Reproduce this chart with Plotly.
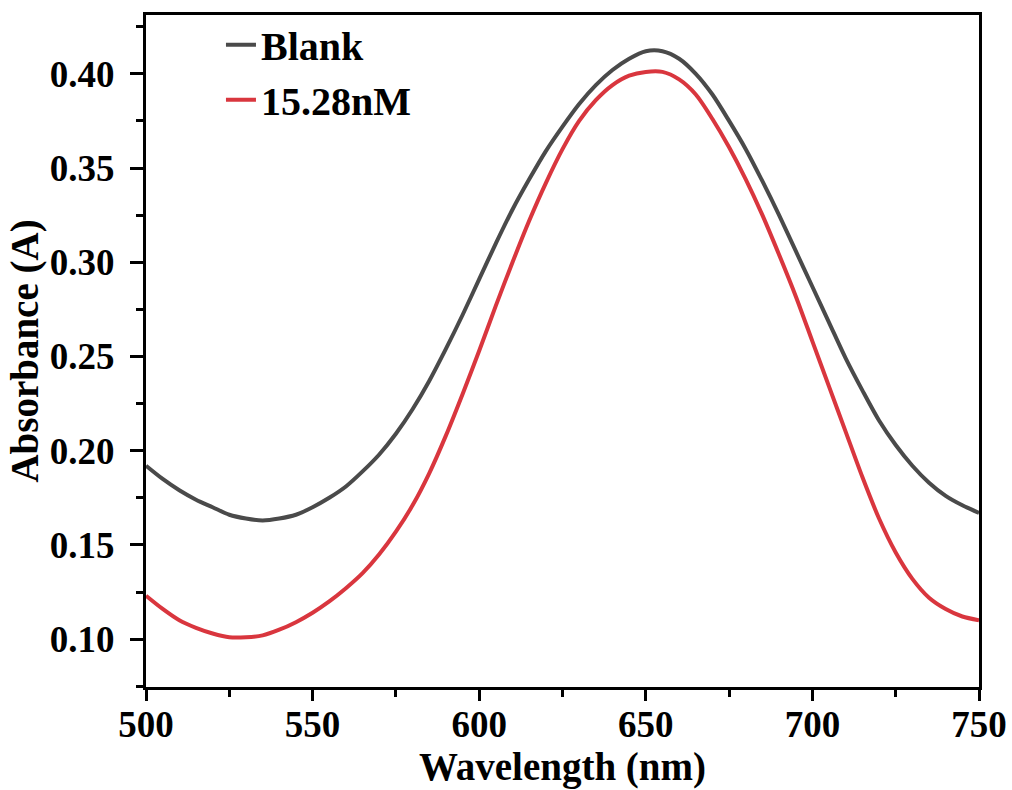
import plotly.graph_objects as go

wavelength = [500, 505, 510, 515, 520, 525, 530, 535, 540, 545, 550, 555, 560, 565, 570,
              575, 580, 585, 590, 595, 600, 605, 610, 615, 620, 625, 630, 635, 640, 645,
              650, 655, 660, 665, 670, 675, 680, 685, 690, 695, 700, 705, 710, 715, 720,
              725, 730, 735, 740, 745, 750]

blank = [0.192, 0.185, 0.179, 0.174, 0.170, 0.166, 0.164, 0.163, 0.164, 0.166, 0.170,
         0.175, 0.181, 0.189, 0.198, 0.209, 0.222, 0.237, 0.254, 0.272, 0.291, 0.310,
         0.328, 0.344, 0.359, 0.372, 0.384, 0.394, 0.402, 0.408, 0.412, 0.412, 0.408,
         0.400, 0.389, 0.375, 0.360, 0.343, 0.325, 0.306, 0.287, 0.268, 0.249, 0.232,
         0.216, 0.203, 0.192, 0.183, 0.176, 0.171, 0.167]

sample = [0.123, 0.116, 0.110, 0.106, 0.103, 0.101, 0.101, 0.102, 0.105, 0.109, 0.114,
          0.120, 0.127, 0.135, 0.145, 0.157, 0.171, 0.188, 0.208, 0.230, 0.253, 0.277,
          0.300, 0.322, 0.342, 0.360, 0.375, 0.386, 0.394, 0.399, 0.401, 0.401, 0.397,
          0.389, 0.376, 0.361, 0.344, 0.325, 0.304, 0.282, 0.258, 0.234, 0.210, 0.186,
          0.164, 0.146, 0.132, 0.122, 0.116, 0.112, 0.110]

names = ["Blank", "15.28nM"]
colors = ["#4a4a4a", "#d9363e"]

fig = go.Figure()
for nm, ys, col in zip(names, [blank, sample], colors):
    fig.add_trace(go.Scatter(x=wavelength, y=ys, mode="lines", name=nm,
                             line=dict(color=col, width=4, shape="spline", smoothing=0.8)))

font_family = "Liberation Serif"
axis_common = dict(
    showline=True, linecolor="black", linewidth=3, mirror=True,
    ticks="outside", tickwidth=3, tickcolor="black",
    showgrid=False, zeroline=False, automargin=False,
    tickfont=dict(family=font_family, size=37, color="black", weight="bold"),
    title_font=dict(family=font_family, size=39, color="black", weight="bold"),
)

fig.update_xaxes(range=[500, 750], tick0=500, dtick=50, ticklen=11,
                 minor=dict(ticks="outside", ticklen=7, tickwidth=3, tickcolor="black", dtick=25),
                 ticklabelstandoff=-8,
                 title_text="Wavelength (nm)", title_standoff=3, **axis_common)
fig.update_yaxes(range=[0.0746, 0.4312], tick0=0.1, dtick=0.05, tickformat=".2f", ticklen=13,
                 minor=dict(ticks="outside", ticklen=7, tickwidth=3, tickcolor="black", dtick=0.025),
                 ticklabelstandoff=8,
                 title_text="Absorbance (A)", title_standoff=0, **axis_common)

fig.update_layout(
    width=1012, height=790,
    margin=dict(l=146, r=33, t=13, b=103),
    paper_bgcolor="white", plot_bgcolor="white",
    showlegend=True,
    legend=dict(x=0.09, y=1.004, xanchor="left", yanchor="top",
                bgcolor="rgba(0,0,0,0)", tracegroupgap=0,
                font=dict(family=font_family, size=40, color="black", weight="bold")),
)

fig.write_html("out.html")
